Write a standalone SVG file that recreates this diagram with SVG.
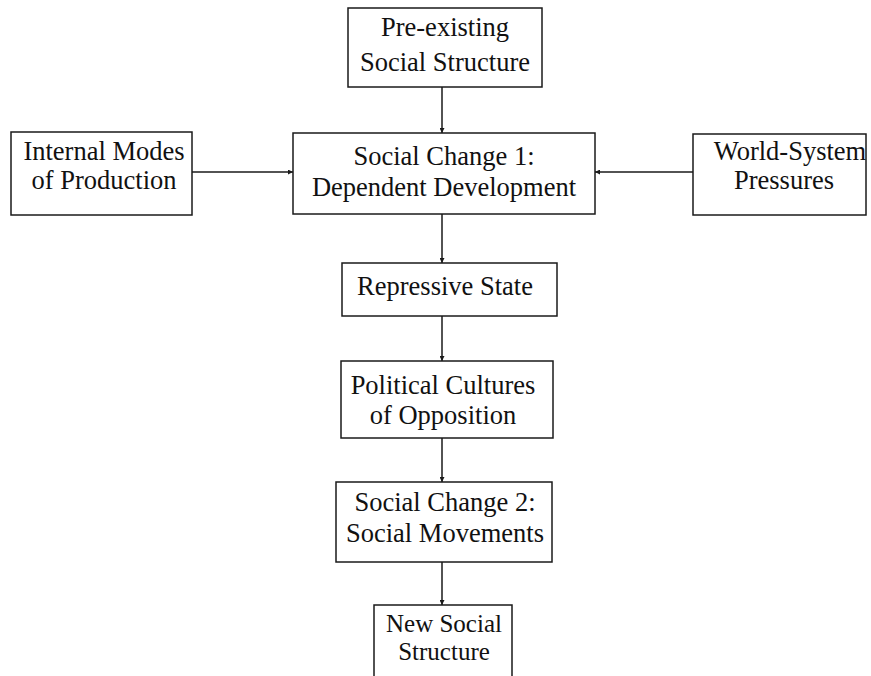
<svg xmlns="http://www.w3.org/2000/svg" width="871" height="676" viewBox="0 0 871 676">
<style>
.box{fill:#fff;stroke:#1a1a1a;stroke-width:1.5}
.t{font-family:"Liberation Serif","Times New Roman",serif;font-size:26.5px;fill:#111;text-anchor:middle}
.s{font-size:25px}
.c{stroke:#1a1a1a;stroke-width:1.5;fill:none;marker-end:url(#ah)}
</style>
<defs>
<marker id="ah" viewBox="0 0 8 8" refX="8" refY="4" markerWidth="5" markerHeight="5" orient="auto" markerUnits="userSpaceOnUse">
<path d="M0,0 L8,4 L0,8 z" fill="#1a1a1a"/>
</marker>
</defs>
<rect width="871" height="676" fill="#fff"/>
<g id="connectors">
<line class="c" x1="442" y1="87" x2="442" y2="133"/>
<line class="c" x1="192" y1="172" x2="293" y2="172"/>
<line class="c" x1="693" y1="172" x2="595" y2="172"/>
<line class="c" x1="442" y1="214" x2="442" y2="263"/>
<line class="c" x1="442" y1="316" x2="442" y2="361"/>
<line class="c" x1="442" y1="438" x2="442" y2="482"/>
<line class="c" x1="442" y1="562" x2="442" y2="605"/>
</g>
<g id="preexisting">
<rect class="box" x="348" y="8" width="194" height="79"/>
<text class="t" x="445" y="36">Pre-existing</text>
<text class="t" x="445" y="71">Social Structure</text>
</g>
<g id="internal">
<rect class="box" x="11" y="132" width="181" height="83"/>
<text class="t" x="104" y="160">Internal Modes</text>
<text class="t" x="104" y="189">of Production</text>
</g>
<g id="change1">
<rect class="box" x="293" y="133" width="302" height="81"/>
<text class="t" x="444" y="165">Social Change 1:</text>
<text class="t" x="444" y="196">Dependent Development</text>
</g>
<g id="world">
<rect class="box" x="693" y="134" width="173" height="81"/>
<text class="t" x="790" y="160">World-System</text>
<text class="t" x="784" y="189">Pressures</text>
</g>
<g id="repressive">
<rect class="box" x="342" y="263" width="215" height="53"/>
<text class="t" x="445" y="295">Repressive State</text>
</g>
<g id="political">
<rect class="box" x="341" y="361" width="212" height="77"/>
<text class="t" x="443" y="394">Political Cultures</text>
<text class="t" x="443" y="424">of Opposition</text>
</g>
<g id="change2">
<rect class="box" x="336" y="482" width="216" height="80"/>
<text class="t" x="445" y="511">Social Change 2:</text>
<text class="t" x="445" y="542">Social Movements</text>
</g>
<g id="newsocial">
<path class="box" d="M374,677 L374,605 L512,605 L512,677"/>
<text class="t s" x="444" y="632">New Social</text>
<text class="t s" x="444" y="660">Structure</text>
</g>
</svg>
